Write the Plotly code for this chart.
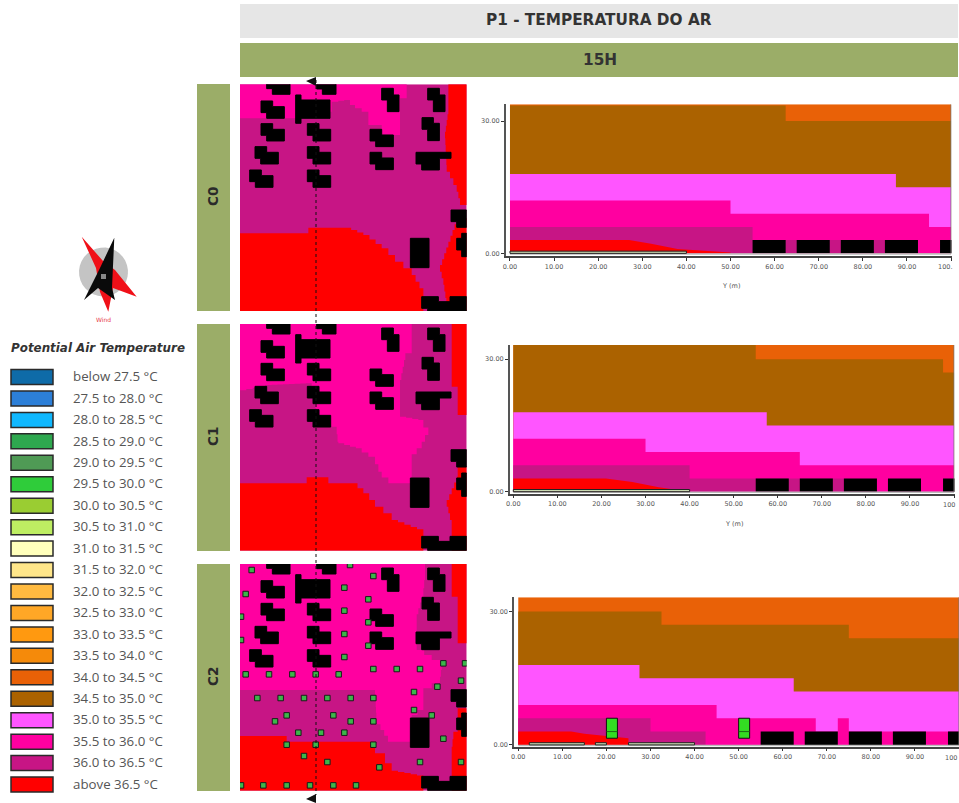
import math
import plotly.graph_objects as go

W, H = 959, 803
FONT = "DejaVu Sans"

# ---------- legend ----------
legend_labels = ["below 27.5 °C", "27.5 to 28.0 °C", "28.0 to 28.5 °C", "28.5 to 29.0 °C", "29.0 to 29.5 °C",
                 "29.5 to 30.0 °C", "30.0 to 30.5 °C", "30.5 to 31.0 °C", "31.0 to 31.5 °C", "31.5 to 32.0 °C",
                 "32.0 to 32.5 °C", "32.5 to 33.0 °C", "33.0 to 33.5 °C", "33.5 to 34.0 °C", "34.0 to 34.5 °C",
                 "34.5 to 35.0 °C", "35.0 to 35.5 °C", "35.5 to 36.0 °C", "36.0 to 36.5 °C", "above 36.5 °C"]
legend_colors = ["#0E6BA8", "#2C7FD8", "#10B8FF", "#2EA84F", "#4F9A55", "#2FCC3A", "#9ACD32", "#BEEE62", "#FFFFBB",
                 "#FFE68A", "#FFBA40", "#FFA726", "#FF9910", "#F58A0A", "#E96107", "#AB6200", "#FF55FF", "#FF00A0",
                 "#C71585", "#FF0000"]
ORANGE, BROWN, PINK, MAGENTA, PURPLE, RED = legend_colors[14:]

# ---------- maps: zones (map grid coordinates) ----------
m1_magenta = [(15, 28), (515, 28), (515, 70), (495, 70), (495, 180), (440, 180), (440, 150), (400, 150), (400, 110),
              (360, 90), (345, 75), (310, 80), (290, 110), (250, 130), (15, 130)]
m1_red = [[(640, 28), (695, 28), (695, 390), (680, 390), (665, 330), (635, 270), (630, 170), (640, 100)],
          [(665, 430), (695, 430), (695, 708), (640, 708), (625, 610), (615, 570), (640, 500)],
          [(15, 475), (215, 475), (220, 458), (330, 458), (385, 480), (440, 520), (480, 560), (530, 600), (565, 660),
           (565, 708), (15, 708)]]
m2_magenta = [(15, 12), (530, 12), (530, 100), (515, 100), (495, 200), (495, 290), (550, 300), (580, 345), (560, 385),
              (530, 420), (530, 490), (480, 490), (440, 455), (420, 410), (380, 385), (310, 365), (305, 320),
              (250, 300), (230, 190), (110, 195), (15, 215)]
m2_red = [[(650, 12), (695, 12), (695, 285), (668, 255), (668, 200), (650, 195)],
          [(668, 440), (695, 440), (695, 692), (650, 692), (650, 600), (635, 540), (665, 470)],
          [(15, 490), (195, 490), (215, 472), (265, 472), (280, 490), (350, 490), (385, 520), (420, 560), (470, 600),
           (565, 635), (565, 692), (15, 692)]]
m3_magenta = [(15, 12), (570, 12), (570, 60), (565, 110), (545, 180), (545, 270), (590, 300), (620, 330), (615, 370),
              (565, 400), (565, 450), (530, 480), (530, 545), (470, 545), (425, 475), (420, 390), (15, 390)]
m3_red = [[(650, 12), (695, 12), (695, 250), (668, 250), (668, 110), (650, 105)],
          [(695, 445), (695, 692), (650, 692), (650, 560), (655, 515), (668, 510), (668, 445)],
          [(15, 528), (135, 528), (155, 545), (420, 545), (420, 580), (450, 610), (470, 632), (565, 650), (565, 692),
           (15, 692)]]

# ---------- maps: buildings ----------
stair_blocks = [(95, 6), (78, 78), (78, 146), (60, 215), (44, 285), (217, 146), (217, 215), (217, 285), (405, 163),
                (405, 232)]
other_buildings = [
    [(182, 60), (198, 60), (198, 75), (285, 75), (285, 130), (198, 130), (198, 145), (182, 145)],
    [(245, 8), (303, 8), (303, 58), (262, 58), (262, 42), (245, 42)],
    [(440, 40), (475, 40), (475, 60), (492, 60), (492, 110), (457, 110), (457, 75), (440, 75)],
    [(578, 40), (613, 40), (613, 60), (630, 60), (630, 110), (595, 110), (595, 75), (578, 75)],
    [(561, 128), (595, 128), (595, 145), (613, 145), (613, 197), (578, 197), (578, 163), (561, 163)],
    [(543, 232), (648, 232), (648, 250), (613, 250), (613, 285), (560, 285), (560, 267), (543, 267)],
    [(648, 405), (695, 405), (695, 457), (665, 457), (665, 440), (648, 440)],
    [(680, 475), (695, 475), (695, 545), (680, 545), (680, 525), (665, 525), (665, 490), (680, 490)],
    [(526, 490), (582, 490), (582, 578), (526, 578)],
    [(560, 665), (610, 665), (610, 680), (645, 680), (645, 665), (695, 665), (695, 708), (578, 708), (578, 700),
     (560, 700)],
]
trees = [(50, 30), (345, 15), (415, 48), (32, 102), (328, 83), (400, 118), (18, 170), (328, 152), (400, 187), (18, 240),
         (328, 222), (400, 257), (328, 291), (625, 310), (690, 310), (415, 327), (485, 327), (555, 327), (32, 343),
         (102, 343), (172, 343), (242, 343), (311, 343), (678, 362), (607, 380), (537, 396), (67, 414), (137, 414),
         (207, 414), (277, 414), (347, 414), (415, 414), (537, 450), (590, 466), (155, 466), (295, 466), (120, 484),
         (347, 484), (415, 484), (190, 518), (258, 518), (328, 518), (625, 536), (155, 554), (242, 554), (415, 554),
         (207, 588), (277, 606), (555, 606), (678, 606), (433, 622), (18, 676), (85, 676), (155, 676), (225, 676),
         (295, 676), (363, 676)]

# ---------- sections: (x breakpoints, layer top in metres) ----------
s1 = dict(brown=([0, 62.5, 100], [33.5, 30, 30]), pink=([0, 87.5, 100], [18, 15, 15]),
          magenta=([0, 50, 95, 100], [12, 9, 6, 6]), purple=([0, 55, 85, 100], [6, 3, 0, 0]),
          red=([0, 27, 32, 38, 50, 50], [3, 3, 2.2, 1, 0.2, 0]), top=33.8)
s2 = dict(brown=([0, 55, 97.5, 100], [33.2, 30, 27, 27]), pink=([0, 57.5, 100], [18, 15, 15]),
          magenta=([0, 30, 65, 100], [12, 9, 6, 6]), purple=([0, 40, 75, 100], [6, 3, 0, 0]),
          red=([0, 21, 27, 33, 40], [3, 3, 2.2, 1, 0]), top=33.2)
s3 = dict(brown=([0, 32.5, 75, 100], [30, 27, 24, 24]), pink=([0, 27.5, 62.5, 100], [18, 15, 12, 12]),
          magenta=([0, 45, 67.5, 72.5, 75, 100], [9, 6, 3, 6, 3, 3]), purple=([0, 30, 42.5, 100], [6, 3, 0, 0]),
          red=([0, 12, 15, 25, 25], [3, 3, 2.5, 1.5, 0]), top=33.2)
section_buildings = [55, 65, 75, 85, 97.5]
s1_ground = [(0, 40)]
s2_ground = [(0, 40)]
s3_ground = [(2.5, 15), (17.5, 20), (25, 40)]
s3_trees = [20, 50]
x_ticks = [0, 10, 20, 30, 40, 50, 60, 70, 80, 90, 100]
x_tick_text = ["0.00", "10.00", "20.00", "30.00", "40.00", "50.00", "60.00", "70.00", "80.00", "90.00", ""]
y_ticks = [0, 30]
y_tick_text = ["0.00", "30.00"]

fig = go.Figure()
layout_axes = {}
n_axes = 0


def new_axes(x0, x1, y0, y1, xr, yr, **kw):
    global n_axes
    n_axes += 1
    s = "" if n_axes == 1 else str(n_axes)
    xa = dict(domain=[x0 / W, x1 / W], range=xr, visible=False, fixedrange=True, anchor=f"y{s}")
    ya = dict(domain=[1 - y1 / H, 1 - y0 / H], range=yr, visible=False, fixedrange=True, anchor=f"x{s}")
    xa.update(kw.get("xa", {}))
    ya.update(kw.get("ya", {}))
    layout_axes[f"xaxis{s}"] = xa
    layout_axes[f"yaxis{s}"] = ya
    return f"x{s}", f"y{s}"


def stairs(poly, step=17):
    pts = []
    closed = list(poly) + [poly[0]]
    for (a, b), (c, d) in zip(closed[:-1], closed[1:]):
        n = max(1, int(max(abs(c - a), abs(d - b)) / step)) if a != c and b != d else 1
        for i in range(n):
            pts.append((a + (c - a) * i / n, b + (d - b) * i / n))
    pts.append(closed[0])
    return pts


def polygon(ax, pts, color, shape="hv", line=None):
    fig.add_trace(go.Scatter(x=[p[0] for p in pts], y=[p[1] for p in pts], mode="lines", fill="toself",
                             fillcolor=color, line=dict(color=line or color, width=1 if line else 0, shape=shape),
                             xaxis=ax[0], yaxis=ax[1], showlegend=False, hoverinfo="skip"))


def block(x, y):
    return [(x, y), (x + 35, y), (x + 35, y + 17), (x + 70, y + 17), (x + 70, y + 52), (x + 17, y + 52),
            (x + 17, y + 35), (x, y + 35)]


def draw_map(top, yr, magenta, reds, dy, with_trees=False):
    ax = new_axes(240, 466.7, top, top + 226.7, [15, 695], yr)
    polygon(ax, [(15, yr[1]), (695, yr[1]), (695, yr[0]), (15, yr[0]), (15, yr[1])], PURPLE)
    polygon(ax, stairs(magenta), MAGENTA)
    for r in reds:
        polygon(ax, stairs(r), RED)
    for b in stair_blocks:
        polygon(ax, [(p, q - dy) for p, q in block(*b)] + [(b[0], b[1] - dy)], "#000000", line="#000000")
    for b in other_buildings:
        polygon(ax, [(p, q - dy) for p, q in b] + [(b[0][0], b[0][1] - dy)], "#000000", line="#000000")
    if with_trees:
        fig.add_trace(go.Scatter(x=[t[0] for t in trees], y=[t[1] for t in trees], mode="markers",
                                 marker=dict(symbol="square", size=5.5, color="#3CB64A",
                                             line=dict(color="#1A1A1A", width=1)),
                                 xaxis=ax[0], yaxis=ax[1], showlegend=False, hoverinfo="skip"))


draw_map(84.3, [708, 28], m1_magenta, m1_red, 0)
draw_map(324, [692, 12], m2_magenta, m2_red, 16)
draw_map(564, [692, 12], m3_magenta, m3_red, 16, True)


def draw_section(px0, px1, py_top, py_bot, xr, yr, s, ground, tree_x=()):
    tick = dict(tickfont=dict(size=6.5, color="#555555", family=FONT), ticks="outside", ticklen=3, tickwidth=1,
                tickcolor="#333333", showgrid=False, zeroline=False, showline=True, visible=True,
                tickmode="array")
    ax = new_axes(px0, px1, py_top, py_bot, xr, yr,
                  xa=dict(tickvals=x_ticks, ticktext=x_tick_text, linecolor="#444444", linewidth=1.5, **tick),
                  ya=dict(tickvals=y_ticks, ticktext=y_tick_text, linecolor="#555555", linewidth=2, **tick))
    polygon(ax, [(0, s["top"]), (100, s["top"]), (100, 0), (0, 0), (0, s["top"])], ORANGE, "linear")
    for key, col, shape in [("brown", BROWN, "hv"), ("pink", PINK, "hv"), ("magenta", MAGENTA, "hv"),
                            ("purple", PURPLE, "hv"), ("red", RED, "linear")]:
        xs, ys = s[key]
        fig.add_trace(go.Scatter(x=xs, y=ys, mode="lines", fill="tozeroy", fillcolor=col,
                                 line=dict(color=col, width=0, shape=shape), xaxis=ax[0], yaxis=ax[1],
                                 showlegend=False, hoverinfo="skip"))
    for b in section_buildings:
        e = min(b + 7.5, 100.5)
        polygon(ax, [(b, 0), (e, 0), (e, 3), (b, 3), (b, 0)], "#000000", "linear")
    fig.add_trace(go.Scatter(x=[0, 100], y=[-0.15, -0.15], mode="lines", line=dict(color="#BBBBBB", width=1.5),
                             xaxis=ax[0], yaxis=ax[1], showlegend=False, hoverinfo="skip"))
    fig.add_trace(go.Scatter(x=[100, 100], y=[0, s["top"]], mode="lines", line=dict(color="#777777", width=1),
                             xaxis=ax[0], yaxis=ax[1], showlegend=False, hoverinfo="skip"))
    for a, b in ground:
        polygon(ax, [(a, 0), (b, 0), (b, 0.5), (a, 0.5), (a, 0)], "#C9D8B0", "linear", "#222222")
    for t in tree_x:
        polygon(ax, [(t, 1.5), (t + 2.5, 1.5), (t + 2.5, 6), (t, 6), (t, 1.5)], "#33DD22", "linear", "#111111")
        fig.add_trace(go.Scatter(x=[t, t + 2.5], y=[3, 3], mode="lines", line=dict(color="#1C6B14", width=1),
                                 xaxis=ax[0], yaxis=ax[1], showlegend=False, hoverinfo="skip"))


draw_section(506, 951.5, 104.3, 256, [-0.9, 100.1], [-0.6, 33.8], s1, s1_ground)
draw_section(510, 954.5, 345, 493.7, [-0.75, 100.1], [-0.45, 33.2], s2, s2_ground)
draw_section(514.3, 959, 597.3, 746.7, [-0.9, 100], [-0.4, 33.2], s3, s3_ground, s3_trees)

# ---------- page overlay: compass, section line ----------
page = new_axes(0, W, 0, H, [0, W], [H, 0])
compass_c = (103.5, 272)
circle = [(compass_c[0] + 24.5 * math.cos(i * 0.2), compass_c[1] + 24.5 * math.sin(i * 0.2)) for i in range(33)]
polygon(page, circle, "#C4C4C4", "linear")
compass_red = [(81.7, 236.7), (103, 261), (115, 270), (136.7, 296.7), (113, 288), (108.3, 311.7), (100, 292), (96, 268)]
compass_black = [(114.3, 237.7), (112, 288), (115, 300), (98, 288), (84, 300), (100, 268)]
polygon(page, compass_red + compass_red[:1], "#F01018", "linear")
polygon(page, compass_black + compass_black[:1], "#0A0A0A", "linear")
polygon(page, [(101, 274), (106, 274), (106, 279), (101, 279), (101, 274)], "#888888", "linear")
section_line_x = [316, 316]
section_line_y = [80, 795]
fig.add_trace(go.Scatter(x=section_line_x, y=section_line_y, mode="lines", line=dict(color="#111111", width=1, dash="dot"),
                         xaxis=page[0], yaxis=page[1], showlegend=False, hoverinfo="skip"))
polygon(page, [(306, 81), (316, 77), (316, 86), (306, 81)], "#111111", "linear")
polygon(page, [(306, 799), (316, 794), (316, 803), (306, 799)], "#111111", "linear")

# ---------- chrome ----------
shapes, annots = [], []


def rect(x0, y0, x1, y1, fill, line=None):
    shapes.append(dict(type="rect", xref="paper", yref="paper", x0=x0 / W, x1=x1 / W, y0=1 - y1 / H, y1=1 - y0 / H,
                       fillcolor=fill, line=dict(color=line or fill, width=1.5 if line else 0), layer="below"))


def text(x, y, s, size=12, color="#333333", anchor="center", angle=0, family=FONT):
    annots.append(dict(text=s, x=x / W, y=1 - y / H, xref="paper", yref="paper", showarrow=False, xanchor=anchor,
                       yanchor="middle", textangle=angle, font=dict(size=size, color=color, family=family)))


GREEN = "#9BAD68"
rect(240, 4, 958, 38, "#E6E6E6")
rect(240, 43, 958, 77, GREEN)
text(599, 20, "<b>P1 - TEMPERATURA DO AR</b>", 15.3, "#333333")
text(600, 60, "<b>15H</b>", 15.3, "#333333")
side_labels = ["C0", "C1", "C2"]
side_tops = [84, 324, 564]
for lab, t in zip(side_labels, side_tops):
    rect(197, t, 230, t + 227, GREEN)
    text(213, t + 113, f"<b>{lab}</b>", 13.5, "#2A2A2A", angle=-90)
text(730.5, 285.5, "Y (m)", 6.5, "#555555")
text(733.5, 523.5, "Y (m)", 6.5, "#555555")
text(954, 266.5, "100.", 6.5, "#555555", anchor="right")
text(957, 505, "100", 6.5, "#555555", anchor="right")
text(959, 758, "100", 6.5, "#555555", anchor="right")
text(103, 319, "Wind", 6, "#E8404A")
text(97.5, 348, "<b><i>Potential Air Temperature</i></b>", 11.9, "#333333")

for i, (lab, col) in enumerate(zip(legend_labels, legend_colors)):
    yc = 377 + 21.45 * i
    rect(11, yc - 7.5, 53, yc + 7.5, col, "#2A2A2A")
    text(70.5, yc - 0.8, lab, 13.3, "#555555", anchor="left", family="Open Sans")

fig.update_layout(width=W, height=H, margin=dict(l=0, r=0, t=0, b=0, autoexpand=False), paper_bgcolor="white",
                  plot_bgcolor="rgba(0,0,0,0)", shapes=shapes, annotations=annots, showlegend=False, **layout_axes)
fig.write_html("out.html", post_script="document.body.style.margin='0';", config={"displayModeBar": False})
